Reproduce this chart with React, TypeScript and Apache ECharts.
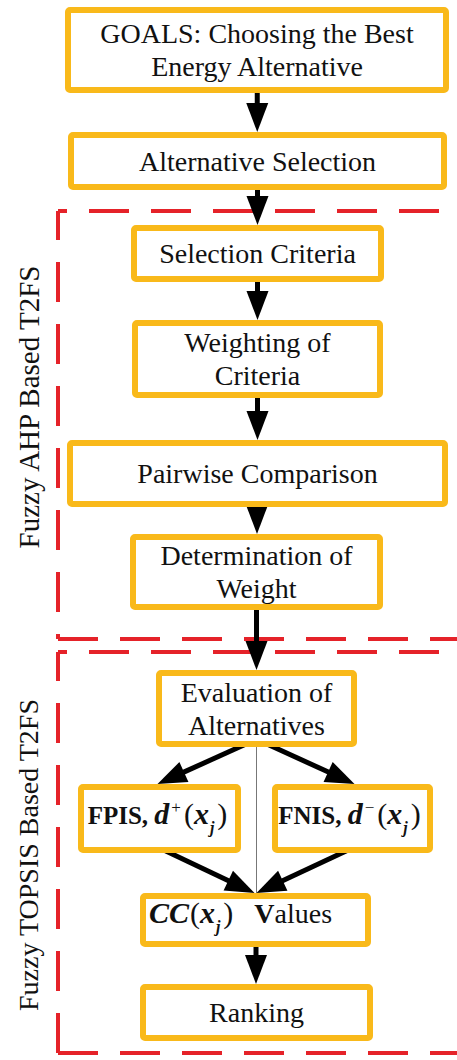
import React, { useEffect, useRef } from "react";
import * as echarts from "echarts";

// ---- content ----
const boxLabels: string[] = [
  "GOALS: Choosing the Best\nEnergy Alternative",
  "Alternative Selection",
  "Selection Criteria",
  "Weighting of\nCriteria",
  "Pairwise Comparison",
  "Determination of\nWeight",
  "Evaluation of\nAlternatives",
  "",
  "",
  "",
  "Ranking",
];
// formula labels: [text, role]
const fpisPieces: [string, string][] = [
  ["FPIS, ", "b"], ["d", "m"], ["+", "sup"], ["(", "p"], ["x", "m"], ["j", "sub"], [")", "p"],
];
const fnisPieces: [string, string][] = [
  ["FNIS, ", "b"], ["d", "m"], ["\u2212", "sup"], ["(", "p"], ["x", "m"], ["j", "sub"], [")", "p"],
];
const ccPieces: [string, string][] = [
  ["CC", "m"], ["(", "p"], ["x", "m"], ["j", "sub"], [")", "p"], ["   ", "n"], ["V", "vb"], ["alues", "n"],
];
const formulaBoxes: [number, [string, string][]][] = [
  [7, fpisPieces],
  [8, fnisPieces],
  [9, ccPieces],
];
const edges: [number, number][] = [
  [0, 1], [1, 2], [2, 3], [3, 4], [4, 5], [5, 6],
  [6, 7], [6, 8], [7, 9], [8, 9], [9, 10],
];
const divider: [number, number] = [6, 9];
const groupLabels: string[] = ["Fuzzy AHP Based T2FS", "Fuzzy TOPSIS Based T2FS"];

// ---- layout (outer edges: x0, y0, x1, y1) ----
const boxLayout: number[][] = [
  [65, 7, 449, 93],
  [68, 132, 447, 190],
  [131, 225, 384, 282],
  [132, 320, 383, 398],
  [67, 440, 448, 507],
  [130, 534, 383, 610],
  [156, 670, 357, 747],
  [78, 784, 241, 853],
  [272, 784, 433, 853],
  [140, 893, 371, 947],
  [140, 984, 373, 1041],
];
const formulaShift: Record<number, { dx: number; base: number }> = {
  7: { dx: -2, base: 5 },
  8: { dx: -3, base: 5 },
  9: { dx: -15, base: 3 },
};
const frameLayout = [
  { left: 58, top: 211, bottom: 639 },
  { left: 58, top: 652, bottom: 1053 },
];
const groupLabelPos = [
  { x: 29, y: 407, size: 29 },
  { x: 28, y: 855, size: 28 },
];

const ORANGE = "#F9B91A";
const RED = "#E52229";
const INK = "#111111";
const SERIF = "Liberation Serif";
const CENTRAL = 0.3375;

const roles: Record<string, { size: number; weight: string; style: string; shift: number; padL: number; padR: number }> = {
  b: { size: 25, weight: "bold", style: "normal", shift: 0, padL: 0, padR: 0 },
  m: { size: 30, weight: "bold", style: "italic", shift: 0, padL: 0, padR: 1 },
  p: { size: 30, weight: "normal", style: "normal", shift: 0, padL: 0, padR: 0 },
  n: { size: 28, weight: "normal", style: "normal", shift: 0, padL: 0, padR: 0 },
  vb: { size: 28, weight: "bold", style: "normal", shift: 0, padL: 0, padR: 0 },
  sup: { size: 17, weight: "normal", style: "normal", shift: -10, padL: 1, padR: 3 },
  sub: { size: 16, weight: "bold", style: "italic", shift: 9, padL: 0, padR: 3 },
};

let measureCtx: CanvasRenderingContext2D | null = null;
function measure(text: string, r: { size: number; weight: string; style: string }): number {
  if (!measureCtx) measureCtx = document.createElement("canvas").getContext("2d");
  if (!measureCtx) return text.length * r.size * 0.5;
  measureCtx.font = `${r.style} ${r.weight} ${r.size}px "${SERIF}"`;
  return measureCtx.measureText(text).width;
}

function arrow(x1: number, y1: number, x2: number, y2: number): any[] {
  const L = 29;
  const W = 22;
  const dx = x2 - x1;
  const dy = y2 - y1;
  const len = Math.sqrt(dx * dx + dy * dy);
  const ux = dx / len;
  const uy = dy / len;
  const bx = x2 - ux * L;
  const by = y2 - uy * L;
  const px = -uy;
  const py = ux;
  return [
    {
      type: "line",
      shape: { x1, y1, x2: bx + ux * 2, y2: by + uy * 2 },
      style: { stroke: "#000", lineWidth: 5 },
    },
    {
      type: "polygon",
      shape: {
        points: [
          [x2, y2],
          [bx + (px * W) / 2, by + (py * W) / 2],
          [bx - (px * W) / 2, by - (py * W) / 2],
        ],
      },
      style: { fill: "#000" },
    },
  ];
}

function buildGraphic(): any[] {
  const els: any[] = [];
  const cx = (b: number[]) => (b[0] + b[2]) / 2;
  const cy = (b: number[]) => (b[1] + b[3]) / 2;

  // frames
  frameLayout.forEach((fr) => {
    const style = { stroke: RED, lineWidth: 4, lineDash: [40, 22], fill: null as any };
    els.push({
      type: "polyline",
      shape: { points: [[fr.left, fr.top], [470, fr.top]] },
      style: { ...style, lineDashOffset: 31 },
    });
    els.push({
      type: "polyline",
      shape: { points: [[fr.left, fr.top], [fr.left, fr.bottom]] },
      style: { ...style, lineDashOffset: 11 },
    });
    els.push({
      type: "polyline",
      shape: { points: [[fr.left, fr.bottom], [470, fr.bottom]] },
      style: { ...style, lineDashOffset: 0 },
    });
  });

  // group labels
  groupLabels.forEach((t, i) => {
    const p = groupLabelPos[i];
    els.push({
      type: "text",
      x: p.x,
      y: p.y,
      rotation: Math.PI / 2,
      style: {
        text: t,
        fontFamily: SERIF,
        fontSize: p.size,
        fill: INK,
        align: "center",
        verticalAlign: "middle",
      },
    });
  });

  // divider
  {
    const a = boxLayout[divider[0]];
    const b = boxLayout[divider[1]];
    els.push({
      type: "line",
      shape: { x1: cx(a), y1: a[3], x2: cx(a), y2: b[1] },
      style: { stroke: "#777", lineWidth: 1 },
    });
  }

  // arrows
  edges.forEach(([s, t]) => {
    const a = boxLayout[s];
    const b = boxLayout[t];
    const sx = cx(a);
    const tx = cx(b);
    if (Math.abs(sx - tx) < 4) {
      const x = (sx + tx) / 2;
      els.push(...arrow(x, a[3] - 2, x, b[1]));
    } else {
      const sign = Math.sign(tx - sx);
      const startX = sx + (Math.abs(b[2] - b[0]) > 200 ? 0 : sign * 6);
      const startY = a[3] - (a[3] - a[1] > 60 ? 5 : 0);
      const endX = tx - sign * (b[2] - b[0] > 200 ? 1 : -2);
      els.push(...arrow(startX, startY, endX, b[1]));
    }
  });

  // boxes
  boxLayout.forEach((b) => {
    els.push({
      type: "rect",
      shape: { x: b[0] + 3, y: b[1] + 3, width: b[2] - b[0] - 6, height: b[3] - b[1] - 6, r: 2 },
      style: { fill: "#fff", stroke: ORANGE, lineWidth: 6 },
    });
  });

  // plain labels, one text element per line
  boxLabels.forEach((label, i) => {
    if (!label) return;
    const b = boxLayout[i];
    const lines = label.split("\n");
    const lh = 33;
    lines.forEach((ln, k) => {
      els.push({
        type: "text",
        x: cx(b),
        y: cy(b) + (k - (lines.length - 1) / 2) * lh,
        style: {
          text: ln,
          fontFamily: SERIF,
          fontSize: 28,
          fill: INK,
          align: "center",
          verticalAlign: "middle",
        },
      });
    });
  });

  // formula labels, piece by piece
  formulaBoxes.forEach(([i, pieces]) => {
    const b = boxLayout[i];
    const sh = formulaShift[i];
    const widths = pieces.map(([t, role]) => {
      const r = roles[role];
      return r.padL + measure(t, r) + r.padR;
    });
    const total = widths.reduce((s, w) => s + w, 0);
    let x = cx(b) + sh.dx - total / 2;
    const baseline = cy(b) + sh.base;
    pieces.forEach(([t, role], k) => {
      const r = roles[role];
      els.push({
        type: "text",
        x: x + r.padL,
        y: baseline + r.shift - CENTRAL * r.size,
        style: {
          text: t,
          fontFamily: SERIF,
          fontSize: r.size,
          fontWeight: r.weight,
          fontStyle: r.style,
          fill: INK,
          align: "left",
          verticalAlign: "middle",
        },
      });
      x += widths[k];
    });
  });

  return els;
}

export default function App() {
  const ref = useRef<HTMLDivElement>(null);
  useEffect(() => {
    document.body.style.margin = "0";
    if (!ref.current) return;
    const chart = echarts.init(ref.current, null, { renderer: "svg" });
    chart.setOption({
      animation: false,
      backgroundColor: "#ffffff",
      graphic: { elements: buildGraphic() },
    });
    return () => chart.dispose();
  }, []);
  return <div ref={ref} style={{ width: 457, height: 1060 }} />;
}
